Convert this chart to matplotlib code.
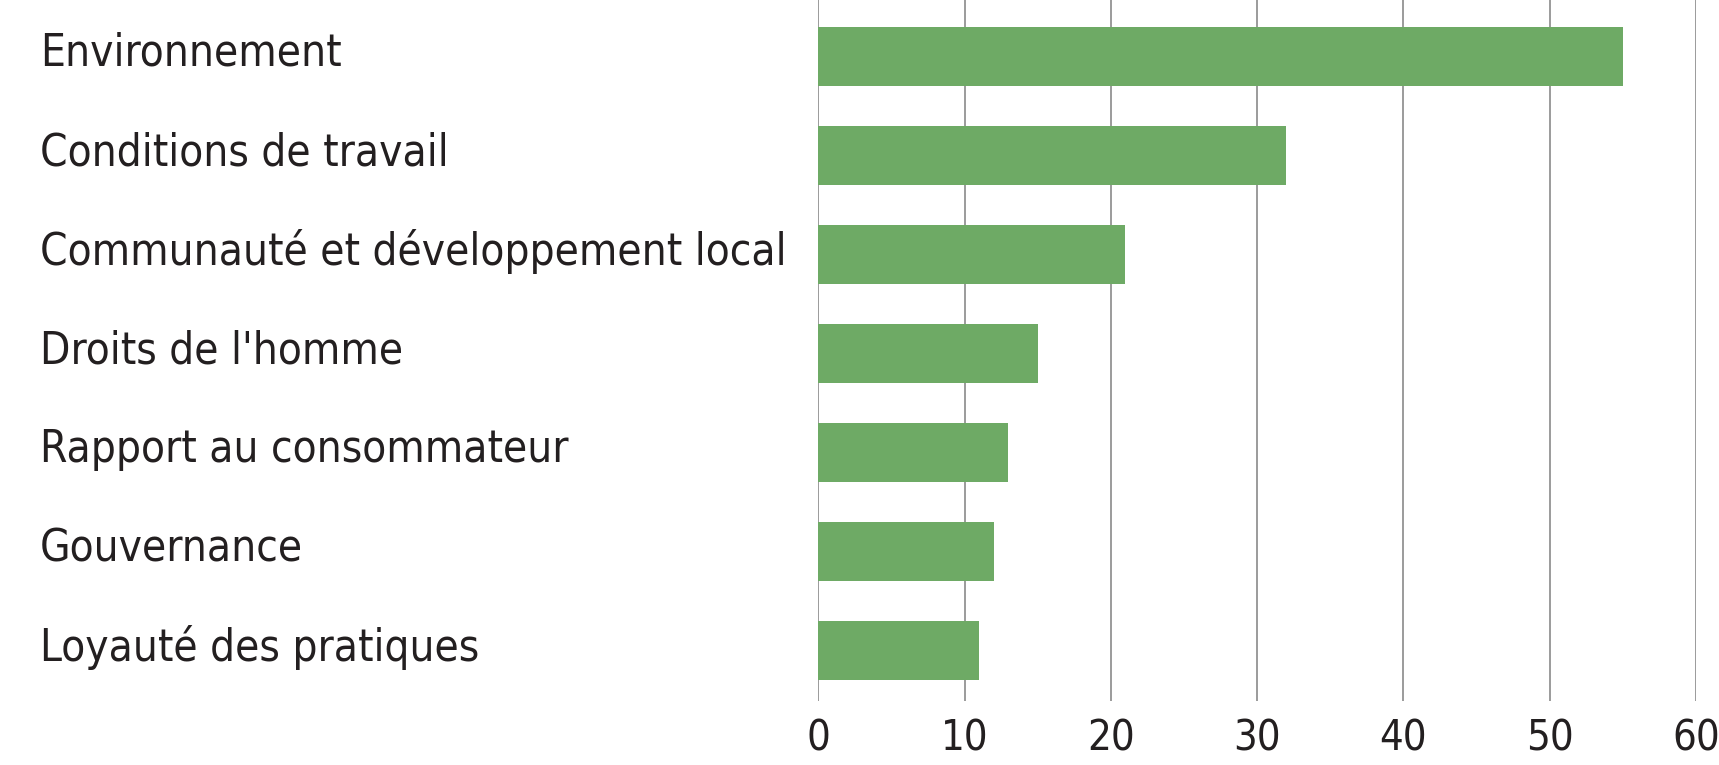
import matplotlib
matplotlib.use("Agg")
import matplotlib.pyplot as plt
import matplotlib.transforms as mtransforms

categories = [
    "Environnement",
    "Conditions de travail",
    "Communauté et développement local",
    "Droits de l'homme",
    "Rapport au consommateur",
    "Gouvernance",
    "Loyauté des pratiques",
]
values = [55, 32, 21, 15, 13, 12, 11]
xticks = [0, 10, 20, 30, 40, 50, 60]

BAR_COLOR = "#6eaa65"
TEXT_COLOR = "#231f20"
FONT = ["DejaVu Sans"]

fig = plt.figure(figsize=(17.19, 7.65), dpi=100)
ax = fig.add_axes([0.476, 0.084, 0.9866 - 0.476, 0.916])

pos = list(range(len(categories)))
ax.barh(pos, values, height=0.6, color=BAR_COLOR, zorder=3)

ax.set_xlim(0, 60)
ax.set_ylim(6.505, -0.57)
ax.set_xticks(xticks)
ax.set_xticklabels([str(t) for t in xticks], family=FONT, stretch="condensed",
                   fontsize=30, color=TEXT_COLOR)
ax.tick_params(axis="x", length=0, pad=12)
ax.set_yticks([])
ax.grid(axis="x", color="#8a8a8a", linewidth=1.2, zorder=0)
for s in ax.spines.values():
    s.set_visible(False)

# category labels sit at a fixed figure x, aligned with each bar
trans = mtransforms.blended_transform_factory(fig.transFigure, ax.transData)
for p, name in zip(pos, categories):
    ax.text(40 / 1719, p - 0.03, name, transform=trans, ha="left", va="center",
            family=FONT, stretch="condensed", fontsize=31.6, color=TEXT_COLOR,
            clip_on=False)

fig.savefig("out.png", dpi=100)
